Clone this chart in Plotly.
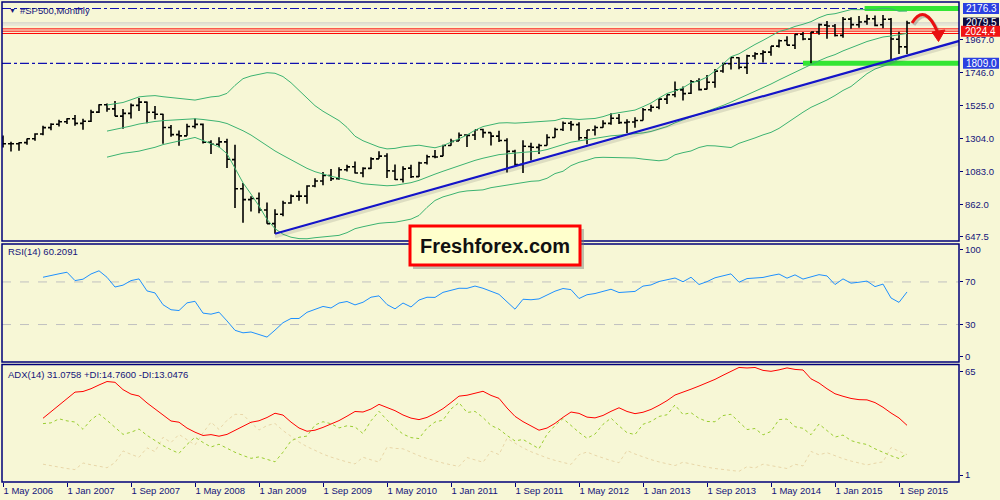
import numpy as np
import plotly.graph_objects as go

# ---------------- DATA ----------------
# Warm-up months Jan 2005 - Apr 2006 (off-screen, only feed the indicators)
warm_open  = [1212, 1181, 1204, 1181, 1157, 1192, 1191, 1234, 1220, 1229, 1207, 1249, 1248, 1280, 1281, 1295]
warm_high  = [1217, 1212, 1229, 1192, 1200, 1219, 1246, 1245, 1243, 1233, 1270, 1276, 1295, 1297, 1311, 1318]
warm_low   = [1163, 1180, 1163, 1137, 1146, 1188, 1184, 1201, 1206, 1169, 1202, 1246, 1245, 1253, 1268, 1280]
warm_close = [1181, 1204, 1181, 1157, 1192, 1191, 1234, 1220, 1229, 1207, 1249, 1248, 1280, 1281, 1295, 1311]

# Visible monthly bars May 2006 - Oct 2015
bar_open = [
    1310, 1270, 1270, 1278, 1304, 1336, 1378, 1401,
    1418, 1438, 1407, 1421, 1482, 1531, 1504, 1455, 1474, 1527, 1549, 1481,
    1468, 1379, 1331, 1323, 1386, 1400, 1280, 1267, 1283, 1164, 969, 896,
    903, 826, 735, 798, 873, 919, 919, 987, 1021, 1057, 1036, 1096,
    1116, 1074, 1105, 1169, 1188, 1088, 1031, 1107, 1050, 1143, 1185, 1187,
    1258, 1289, 1329, 1329, 1366, 1345, 1321, 1292, 1219, 1131, 1252, 1246,
    1258, 1312, 1366, 1408, 1398, 1310, 1362, 1379, 1407, 1441, 1412, 1416,
    1426, 1498, 1515, 1569, 1598, 1631, 1609, 1690, 1636, 1682, 1758, 1806,
    1846, 1782, 1858, 1873, 1884, 1924, 1962, 1930, 2004, 1971, 2019, 2065,
    2059, 1996, 2105, 2067, 2088, 2108, 2067, 2104, 1970, 1919]
bar_high = [
    1326, 1284, 1280, 1306, 1340, 1390, 1407, 1431,
    1441, 1462, 1438, 1498, 1535, 1540, 1556, 1503, 1539, 1576, 1553, 1523,
    1471, 1396, 1359, 1404, 1440, 1406, 1293, 1314, 1303, 1264, 1007, 919,
    944, 876, 832, 888, 930, 956, 993, 1039, 1081, 1101, 1112, 1130,
    1151, 1112, 1180, 1220, 1206, 1131, 1120, 1129, 1149, 1196, 1228, 1263,
    1303, 1345, 1333, 1364, 1371, 1346, 1357, 1307, 1230, 1293, 1277, 1270,
    1334, 1378, 1420, 1422, 1415, 1363, 1392, 1427, 1475, 1470, 1435, 1448,
    1510, 1531, 1570, 1598, 1687, 1654, 1698, 1709, 1730, 1771, 1813, 1849,
    1850, 1867, 1884, 1897, 1924, 1968, 1991, 2006, 2019, 2019, 2075, 2093,
    2072, 2119, 2117, 2126, 2135, 2130, 2133, 2113, 2021, 2094]
bar_low = [
    1245, 1219, 1224, 1264, 1291, 1327, 1360, 1385,
    1403, 1390, 1364, 1416, 1476, 1484, 1454, 1371, 1439, 1489, 1407, 1435,
    1270, 1317, 1257, 1323, 1373, 1272, 1201, 1247, 1107, 840, 741, 816,
    805, 735, 667, 784, 868, 889, 869, 979, 992, 1020, 1029, 1085,
    1071, 1045, 1101, 1170, 1041, 1028, 1011, 1040, 1048, 1131, 1173, 1187,
    1257, 1289, 1249, 1295, 1311, 1258, 1282, 1077, 1114, 1075, 1158, 1202,
    1258, 1312, 1355, 1357, 1292, 1267, 1325, 1378, 1397, 1403, 1343, 1377,
    1426, 1485, 1502, 1536, 1581, 1560, 1604, 1627, 1633, 1646, 1746, 1767,
    1770, 1738, 1834, 1815, 1860, 1915, 1930, 1905, 1964, 1809, 2001, 1973,
    1988, 1981, 2040, 2048, 2068, 2057, 2044, 1831, 1871, 1872]
bar_close = [
    1270, 1270, 1277, 1304, 1336, 1378, 1401, 1418,
    1438, 1407, 1421, 1482, 1531, 1503, 1455, 1474, 1527, 1549, 1481, 1468,
    1379, 1331, 1323, 1386, 1400, 1280, 1267, 1283, 1166, 969, 896, 903,
    826, 735, 798, 873, 919, 919, 987, 1021, 1057, 1036, 1096, 1115,
    1074, 1105, 1169, 1187, 1089, 1031, 1102, 1049, 1141, 1183, 1181, 1258,
    1286, 1327, 1326, 1364, 1345, 1321, 1292, 1219, 1131, 1253, 1247, 1258,
    1312, 1366, 1408, 1398, 1310, 1362, 1379, 1407, 1441, 1412, 1416, 1426,
    1498, 1515, 1569, 1598, 1631, 1606, 1686, 1633, 1682, 1757, 1806, 1848,
    1783, 1859, 1872, 1884, 1924, 1960, 1931, 2003, 1972, 2018, 2068, 2059,
    1995, 2104, 2068, 2086, 2107, 2063, 2104, 1972, 1920, 2079]

date_tick_labels = ["1 May 2006", "1 Jan 2007", "1 Sep 2007", "1 May 2008", "1 Jan 2009",
                    "1 Sep 2009", "1 May 2010", "1 Jan 2011", "1 Sep 2011", "1 May 2012",
                    "1 Jan 2013", "1 Sep 2013", "1 May 2014", "1 Jan 2015", "1 Sep 2015"]
date_tick_step = 8  # one label every 8 bars

price_ticks = [647.5, 862.0, 1083.0, 1304.0, 1525.0, 1746.0, 1967.0]
rsi_ticks = [0, 30, 70, 100]
adx_ticks = [1, 65]

# chart objects (price levels)
level_top = 2176.3
level_support = 1809.0
level_red = [2039.8, 2024.4, 2009.0]
last_price = 2079.5
ask_line = 2066.0
green_top_from = 107.7      # bar index where the green highlight starts
green_support_from = 100.0
trend_bar = [34, 119.6]      # trend line from the Mar-2009 low
trend_price = [667, 1960]

rsi_start, bb_start = 5, 13   # first bar where the indicators are drawn

# ---------------- INDICATORS ----------------
o = np.array(warm_open + bar_open, float)
h = np.array(warm_high + bar_high, float)
l = np.array(warm_low + bar_low, float)
c = np.array(warm_close + bar_close, float)
N = len(c)
off = len(warm_close)

def bollinger(c, p=20, k=2):
    mid = np.full(len(c), np.nan); sd = np.full(len(c), np.nan)
    for i in range(p - 1, len(c)):
        w = c[i - p + 1:i + 1]
        mid[i] = w.mean(); sd[i] = w.std()
    return mid + k * sd, mid, mid - k * sd

def rsi(c, p=14):
    out = np.full(len(c), np.nan)
    d = np.diff(c)
    g = np.clip(d, 0, None); ls = np.clip(-d, 0, None)
    ag = g[:p].mean(); al = ls[:p].mean()
    out[p] = 100 - 100 / (1 + ag / al) if al > 0 else 100
    for i in range(p + 1, len(c)):
        ag = (ag * (p - 1) + g[i - 1]) / p
        al = (al * (p - 1) + ls[i - 1]) / p
        out[i] = 100 - 100 / (1 + ag / al) if al > 0 else 100
    return out

def ema(x, p):
    a = 2.0 / (p + 1); out = np.empty(len(x)); out[0] = x[0]
    for i in range(1, len(x)):
        out[i] = a * x[i] + (1 - a) * out[i - 1]
    return out

def adx(h, l, c, p=14):
    n = len(c); ps = np.zeros(n); ms = np.zeros(n)
    for i in range(1, n):
        pdm = max(h[i] - h[i - 1], 0); mdm = max(l[i - 1] - l[i], 0)
        if pdm == mdm: pdm = mdm = 0
        elif pdm < mdm: pdm = 0
        else: mdm = 0
        tr = max(h[i] - l[i], abs(h[i] - c[i - 1]), abs(l[i] - c[i - 1]))
        if tr > 0:
            ps[i] = 100 * pdm / tr; ms[i] = 100 * mdm / tr
    pdi = ema(ps, p); mdi = ema(ms, p)
    dx = np.where(pdi + mdi > 0, 100 * np.abs(pdi - mdi) / np.maximum(pdi + mdi, 1e-9), 0)
    return ema(dx, p), pdi, mdi

bb_up, bb_mid, bb_lo = [a[off:] for a in bollinger(c)]
rsi_v = rsi(c)[off:]
adx_v, pdi_v, mdi_v = [a[off:] for a in adx(h, l, c)]
for a in (bb_up, bb_mid, bb_lo):
    a[:bb_start] = np.nan
for a in (rsi_v, adx_v, pdi_v, mdi_v):
    a[:rsi_start] = np.nan
xi = np.arange(len(bar_close))

# ---------------- GEOMETRY / STYLE ----------------
W, H = 1000, 500
ML, MR, MT, MB = 2, 41, 2, 18
PW, PH = W - ML - MR, H - MT - MB
def px(x): return (x - ML) / PW
def py(y): return (H - MB - y) / PH

MAIN_DOM = [py(241), py(2)]
RSI_DOM = [py(362), py(244)]
ADX_DOM = [py(482), py(364.5)]
X_RANGE = [-0.125, (959 - 3) / 8]
PRICE_RANGE = [618.7, 2219.8]
RSI_RANGE = [-5.16, 105.6]
ADX_RANGE = [-3.34, 69.46]

BG = "#F7F7D6"
NAVY = "#00007A"
TXT = "#14147A"
FONT = "Liberation Sans, Arial, sans-serif"
units_per_px = (PRICE_RANGE[1] - PRICE_RANGE[0]) / ((MAIN_DOM[1] - MAIN_DOM[0]) * PH)

fig = go.Figure()
fig.add_trace(go.Ohlc(x=xi, open=bar_open, high=bar_high, low=bar_low, close=bar_close,
                      increasing=dict(line=dict(color="black", width=1.6)),
                      decreasing=dict(line=dict(color="black", width=1.6)),
                      tickwidth=0.375, hoverinfo="skip", xaxis="x", yaxis="y"))
for band in (bb_up, bb_mid, bb_lo):
    fig.add_trace(go.Scatter(x=xi, y=band, mode="lines", line=dict(color="#3CB371", width=1),
                             hoverinfo="skip", xaxis="x", yaxis="y"))
# trend line with a soft shadow
fig.add_trace(go.Scatter(x=trend_bar, y=[p - 3 * units_per_px for p in trend_price], mode="lines",
                         line=dict(color="rgba(90,90,90,0.16)", width=3), hoverinfo="skip"))
fig.add_trace(go.Scatter(x=trend_bar, y=trend_price, mode="lines",
                         line=dict(color="#1414C8", width=2.2), hoverinfo="skip"))
# RSI
fig.add_trace(go.Scatter(x=xi, y=rsi_v, mode="lines", line=dict(color="#1E90FF", width=1),
                         hoverinfo="skip", xaxis="x", yaxis="y2"))
# ADX
fig.add_trace(go.Scatter(x=xi, y=mdi_v, mode="lines", line=dict(color="#E8D6A8", width=1, dash="dot"),
                         hoverinfo="skip", xaxis="x", yaxis="y3"))
fig.add_trace(go.Scatter(x=xi, y=pdi_v, mode="lines", line=dict(color="#9ACD32", width=1, dash="dot"),
                         hoverinfo="skip", xaxis="x", yaxis="y3"))
fig.add_trace(go.Scatter(x=xi, y=adx_v, mode="lines", line=dict(color="#FF0000", width=1),
                         hoverinfo="skip", xaxis="x", yaxis="y3"))

shapes = []
def hline(y, color, width, dash="solid", layer="above", x0=0, x1=1, xref="paper", yref="y"):
    shapes.append(dict(type="line", xref=xref, yref=yref, x0=x0, x1=x1, y0=y, y1=y,
                       line=dict(color=color, width=width, dash=dash), layer=layer))

hline(last_price, "#C8C8C8", 1, layer="below")
hline(ask_line, "#D8D8D8", 1, layer="below")
for lv in level_red:
    hline(lv, "#FF0000", 1, layer="below")
hline(level_top, "#33E633", 5, layer="below", xref="x", x0=green_top_from, x1=X_RANGE[1])
hline(level_support, "#33E633", 5, layer="below", xref="x", x0=green_support_from, x1=X_RANGE[1])
hline(level_top, "#1010B0", 1.2, dash="dashdot", layer="below")
hline(level_support, "#1010B0", 1.2, dash="dashdot", layer="below")
hline(70, "#C0C0C0", 1, dash="dash", layer="below", yref="y2")
hline(30, "#C0C0C0", 1, dash="dash", layer="below", yref="y2")

for dom in (MAIN_DOM, RSI_DOM, ADX_DOM):
    shapes.append(dict(type="rect", xref="paper", yref="paper", x0=0, x1=1, y0=dom[0], y1=dom[1],
                       line=dict(color=NAVY, width=1.5), fillcolor="rgba(0,0,0,0)", layer="above"))

# price label boxes on the right scale
def price_box(price, color, x0=963, x1=999, half=5.5):
    shapes.append(dict(type="rect", xref="paper", yref="y", x0=px(x0), x1=px(x1),
                       y0=price - half * units_per_px, y1=price + half * units_per_px,
                       fillcolor=color, line=dict(width=0), layer="above"))

# curved red arrow
shapes.append(dict(type="path", xref="paper", yref="paper",
                   path=f"M {px(914)},{py(25)} Q {px(927)},{py(4)} {px(940)},{py(35)}",
                   line=dict(color="rgba(80,80,80,0.3)", width=3), layer="above"))
shapes.append(dict(type="path", xref="paper", yref="paper",
                   path=f"M {px(912)},{py(23)} Q {px(925)},{py(2)} {px(938)},{py(33)}",
                   line=dict(color="#E81010", width=3), layer="above"))
shapes.append(dict(type="path", xref="paper", yref="paper",
                   path=f"M {px(932)},{py(32)} L {px(945)},{py(30)} L {px(938.5)},{py(41.5)} Z",
                   fillcolor="#E81010", line=dict(color="#E81010", width=1), layer="above"))

# logo box with shadow
shapes.append(dict(type="rect", xref="paper", yref="paper", x0=px(413), x1=px(584), y0=py(269), y1=py(229),
                   fillcolor="rgba(120,120,120,0.45)", line=dict(width=0), layer="above"))
shapes.append(dict(type="rect", xref="paper", yref="paper", x0=px(410), x1=px(580), y0=py(265), y1=py(226),
                   fillcolor="#FFFFCC", line=dict(color="#FF0000", width=3), layer="above"))

annotations = []
def label(x, y, text, size=9.5, color=TXT, xanchor="left", **kw):
    annotations.append(dict(x=px(x), y=py(y), xref="paper", yref="paper", text=text, showarrow=False,
                            xanchor=xanchor, yanchor="middle", font=dict(family=FONT, size=size, color=color), **kw))

label(6.5, 10, "▼", size=7)
label(18, 10, "#SP500,Monthly")
label(6, 252, "RSI(14) 60.2091")
label(6, 374, "ADX(14) 31.0758 +DI:14.7600 -DI:13.0476")
label(495, 245.5, "<b>Freshforex.com</b>", size=20, color="#111111", xanchor="center")

box_specs = [(level_top, "#2B40E0", 963, 999), (last_price, "#0C0C40", 963, 999),
             (level_red[1], "#F01414", 961, 1000), (level_support, "#2B40E0", 963, 999)]
for price, col, x0, x1 in box_specs:
    price_box(price, col, x0, x1)
    annotations.append(dict(x=px((x0 + x1) / 2), y=price, xref="paper", yref="y", text=f"{price:.1f}",
                            showarrow=False, xanchor="center", yanchor="middle",
                            font=dict(family=FONT, size=10, color="white")))

tick_font = dict(family=FONT, size=9.5, color=TXT)
yax = dict(side="right", anchor="x", showgrid=False, zeroline=False, showline=False,
           ticks="outside", ticklen=3, tickcolor=NAVY, tickfont=tick_font)

fig.update_layout(
    width=W, height=H, margin=dict(l=ML, r=MR, t=MT, b=MB),
    paper_bgcolor=BG, plot_bgcolor=BG, showlegend=False, hovermode=False,
    xaxis=dict(range=X_RANGE, domain=[0, 1], anchor="y3", showgrid=False, zeroline=False, showline=False,
               tickvals=[i * date_tick_step for i in range(len(date_tick_labels))],
               ticktext=date_tick_labels, ticks="outside", ticklen=4, tickcolor=NAVY,
               ticklabelposition="outside right", tickfont=tick_font, rangeslider=dict(visible=False)),
    yaxis=dict(domain=MAIN_DOM, range=PRICE_RANGE, tickvals=price_ticks,
               ticktext=[f"{v:.1f}" for v in price_ticks], **yax),
    yaxis2=dict(domain=RSI_DOM, range=RSI_RANGE, tickvals=rsi_ticks,
                ticktext=[str(v) for v in rsi_ticks], **yax),
    yaxis3=dict(domain=ADX_DOM, range=ADX_RANGE, tickvals=adx_ticks,
                ticktext=[str(v) for v in adx_ticks], **yax),
    shapes=shapes, annotations=annotations,
)

fig.write_html("out.html", config={"displayModeBar": False},
               post_script="document.body.style.margin='0';document.body.style.overflow='hidden';")
